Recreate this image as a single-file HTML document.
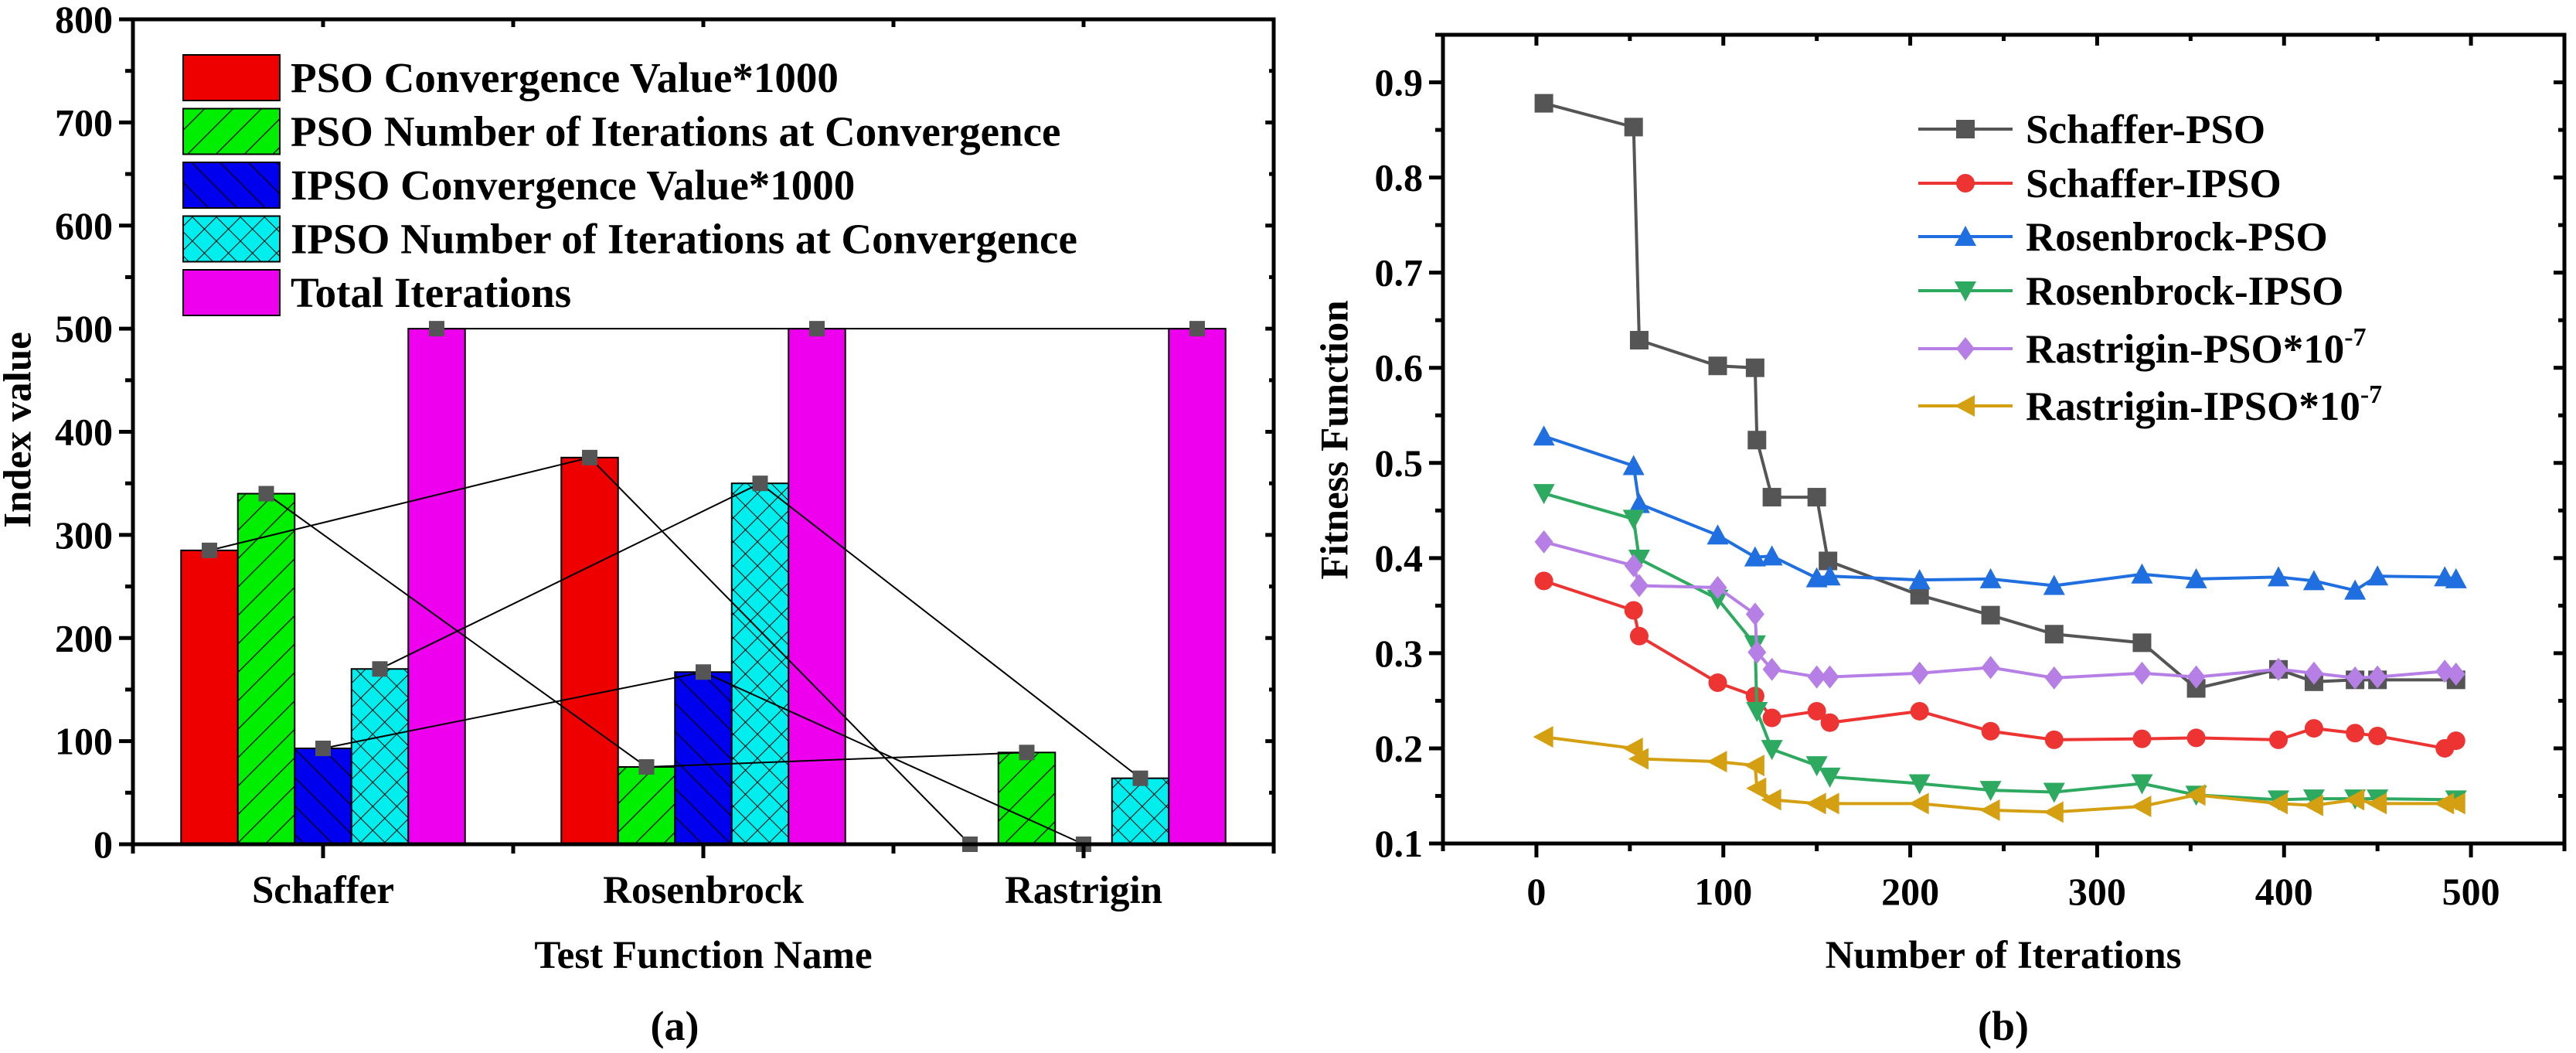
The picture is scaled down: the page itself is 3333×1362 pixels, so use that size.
<!DOCTYPE html>
<html><head><meta charset="utf-8"><style>
html,body{margin:0;padding:0;background:#fff;}
svg{display:block;font-family:"Liberation Serif",serif;font-weight:bold;}
</style></head><body>
<svg id="fig" width="3333" height="1362" viewBox="0 0 3333 1362" xmlns="http://www.w3.org/2000/svg">
<defs>
<pattern id="hatchG" patternUnits="userSpaceOnUse" width="26" height="26" patternTransform="rotate(45)"><rect width="26" height="26" fill="#00ee00"/><line x1="0" y1="0" x2="0" y2="26" stroke="#000" stroke-width="2.5"/></pattern>
<pattern id="hatchB" patternUnits="userSpaceOnUse" width="26" height="26" patternTransform="rotate(-45)"><rect width="26" height="26" fill="#0000ee"/><line x1="0" y1="0" x2="0" y2="26" stroke="#000" stroke-width="2.5"/></pattern>
<pattern id="hatchC" patternUnits="userSpaceOnUse" width="22" height="22" patternTransform="rotate(45)"><rect width="22" height="22" fill="#00eeee"/><line x1="0" y1="0" x2="0" y2="22" stroke="#000" stroke-width="2"/><line x1="0" y1="0" x2="22" y2="0" stroke="#000" stroke-width="2"/></pattern>
</defs>
<g id="left"></g>
<g id="right"></g>
</svg>
<script>
// ---- Chart (a) data ----
const categories = ["Schaffer", "Rosenbrock", "Rastrigin"];
const seriesNamesA = ["PSO Convergence Value*1000", "PSO Number of Iterations at Convergence", "IPSO Convergence Value*1000", "IPSO Number of Iterations at Convergence", "Total Iterations"];
const psoConv = [285, 375, 0];
const psoIter = [340, 75, 89];
const ipsoConv = [93, 167, 0];
const ipsoIter = [170, 350, 64];
const totalIter = [500, 500, 500];
const yTicksA = [0, 100, 200, 300, 400, 500, 600, 700, 800];

// ---- Chart (b) data ----
const iterX = {
  schPSO: [4,52,55,97,117,118,126,150,156,205,243,277,324,353,397,416,438,450,492],
  schIPSO: [4,52,55,97,117,126,150,157,205,243,277,324,353,397,416,438,450,486,492],
  rosPSO: [4,52,55,97,117,126,150,157,205,243,277,324,353,397,416,438,450,486,492],
  rosIPSO: [4,52,55,97,117,118,126,150,157,205,243,277,324,353,397,416,438,450,492],
  rasPSO: [4,52,55,97,117,118,126,150,157,205,243,277,324,353,397,416,438,450,486,492],
  rasIPSO: [4,52,55,97,117,118,126,150,157,205,243,277,324,353,397,416,438,450,486,492]
};
const schafferPSO = [0.878,0.853,0.629,0.602,0.600,0.524,0.464,0.464,0.397,0.361,0.340,0.320,0.311,0.263,0.283,0.270,0.272,0.272,0.272];
const schafferIPSO = [0.376,0.345,0.318,0.269,0.255,0.232,0.239,0.227,0.239,0.218,0.209,0.210,0.211,0.209,0.221,0.216,0.213,0.200,0.208];
const rosenbrockPSO = [0.528,0.497,0.457,0.424,0.401,0.402,0.379,0.381,0.377,0.378,0.371,0.383,0.378,0.380,0.376,0.366,0.381,0.380,0.378];
const rosenbrockIPSO = [0.468,0.441,0.399,0.357,0.309,0.239,0.199,0.182,0.170,0.163,0.156,0.154,0.163,0.151,0.146,0.147,0.147,0.147,0.146];
const rastriginPSO = [0.417,0.392,0.371,0.369,0.341,0.301,0.283,0.275,0.275,0.279,0.285,0.274,0.279,0.275,0.283,0.279,0.274,0.275,0.281,0.278];
const rastriginIPSO = [0.212,0.200,0.189,0.186,0.182,0.158,0.146,0.142,0.142,0.142,0.135,0.133,0.139,0.151,0.142,0.140,0.146,0.142,0.142,0.142];
const xTicksB = [0, 100, 200, 300, 400, 500];
const yTicksB = [0.1, 0.2, 0.3, 0.4, 0.5, 0.6, 0.7, 0.8, 0.9];

const NS = "http://www.w3.org/2000/svg";
function mk(parent, tag, attrs, text) {
  const e = document.createElementNS(NS, tag);
  for (const k in attrs) e.setAttribute(k, attrs[k]);
  if (text !== undefined) e.textContent = text;
  parent.appendChild(e);
  return e;
}

// ================= Chart (a) =================
const L = document.getElementById("left");
const aX0 = 172, aX1 = 1648, aY0 = 1092, aY1 = 25;
const ayScale = v => aY0 - (v / 800) * (aY0 - aY1);
const catW = (aX1 - aX0) / 3;
const axScale = i => aX0 + catW * (i + 0.5);
const barW = 73.5;
const fillsA = ["#ee0000", "url(#hatchG)", "url(#hatchB)", "url(#hatchC)", "#ee00ee"];
const valsA = [psoConv, psoIter, ipsoConv, ipsoIter, totalIter];

valsA.forEach((vals, s) => {
  vals.forEach((v, i) => {
    const cx = axScale(i) + (s - 2) * barW;
    if (v > 0) {
      const r = mk(L, "rect", {x: cx - barW / 2, y: ayScale(v), width: barW, height: aY0 - ayScale(v), fill: fillsA[s], stroke: "#000", "stroke-width": 2});
      
      
    }
  });
});
valsA.forEach((vals, s) => {
  const pts = vals.map((v, i) => (axScale(i) + (s - 2) * barW) + "," + ayScale(v)).join(" ");
  const pl = mk(L, "polyline", {points: pts, fill: "none", stroke: "#000", "stroke-width": 2});
  
  
  vals.forEach((v, i) => {
    const cx = axScale(i) + (s - 2) * barW;
    const m = mk(L, "rect", {x: cx - 10, y: ayScale(v) - 10, width: 20, height: 20, fill: "#555"});
    
    
  });
});
const frA = mk(L, "rect", {x: aX0, y: aY1, width: aX1 - aX0, height: aY0 - aY1, fill: "none", stroke: "#000", "stroke-width": 5});


for (let v = 0; v <= 800; v += 50) {
  const y = ayScale(v), major = v % 100 === 0;
  const len = major ? 18 : 10;
  mk(L, "line", {x1: aX0 - len, y1: y, x2: aX0, y2: y, stroke: "#000", "stroke-width": 5});
  mk(L, "line", {x1: aX1, y1: y, x2: aX1 - len * 0.6, y2: y, stroke: "#000", "stroke-width": 5});
}
yTicksA.forEach(v => {
  const t = mk(L, "text", {x: aX0 - 26, y: ayScale(v) + 17, "text-anchor": "end", "font-size": 50}, String(v));
  
  
});
for (let k = 0; k <= 6; k++) {
  const x = aX0 + catW * k / 2;
  const major = k % 2 === 1;
  mk(L, "line", {x1: x, y1: aY0, x2: x, y2: aY0 + (major ? 18 : 12), stroke: "#000", "stroke-width": 5});
  mk(L, "line", {x1: x, y1: aY1, x2: x, y2: aY1 + 10, stroke: "#000", "stroke-width": 5});
}
categories.forEach((c, i) => {
  const t = mk(L, "text", {x: axScale(i), y: 1168, "text-anchor": "middle", "font-size": 51}, c);
  
  
});
let t;
t = mk(L, "text", {x: 910, y: 1252, "text-anchor": "middle", "font-size": 51}, "Test Function Name");
 
t = mk(L, "text", {x: 28, y: 556, "text-anchor": "middle", "dominant-baseline": "middle", "font-size": 51, transform: "rotate(-90 28 556)"}, "Index value");
 
t = mk(L, "text", {x: 873, y: 1345, "text-anchor": "middle", "font-size": 54}, "(a)");
 
const legA = mk(L, "g", {});


seriesNamesA.forEach((n, s) => {
  const y = 71 + s * 69.5;
  const r = mk(legA, "rect", {x: 237, y: y, width: 125, height: 59, fill: fillsA[s], stroke: "#000", "stroke-width": 2});
  
  
  const tx = mk(legA, "text", {x: 376, y: y + 48, "font-size": 55}, n);
  
  
});

// ================= Chart (b) =================
const R = document.getElementById("right");
const bX0 = 1867, bX1 = 3318, bY0 = 1091, bY1 = 45;
const bxScale = v => bX0 + (v + 50) / 600 * (bX1 - bX0);
const byScale = v => bY0 - (v - 0.1) / 0.85 * (bY0 - bY1);

const frB = mk(R, "rect", {x: bX0, y: bY1, width: bX1 - bX0, height: bY0 - bY1, fill: "none", stroke: "#000", "stroke-width": 5});


for (let v = -50; v <= 550; v += 50) {
  const x = bxScale(v), major = v % 100 === 0;
  mk(R, "line", {x1: x, y1: bY0, x2: x, y2: bY0 + (major ? 18 : 10), stroke: "#000", "stroke-width": 5});
  mk(R, "line", {x1: x, y1: bY1, x2: x, y2: bY1 + (major ? 14 : 8), stroke: "#000", "stroke-width": 5});
}
for (let k = 0; k <= 17; k++) {
  const v = 0.1 + k * 0.05, y = byScale(v), major = k % 2 === 0;
  mk(R, "line", {x1: bX0 - (major ? 18 : 10), y1: y, x2: bX0, y2: y, stroke: "#000", "stroke-width": 5});
  mk(R, "line", {x1: bX1, y1: y, x2: bX1 - (major ? 14 : 8), y2: y, stroke: "#000", "stroke-width": 5});
}
xTicksB.forEach(v => {
  const tt = mk(R, "text", {x: bxScale(v), y: 1170, "text-anchor": "middle", "font-size": 50}, String(v));
  
  
});
yTicksB.forEach(v => {
  const tt = mk(R, "text", {x: bX0 - 26, y: byScale(v) + 17, "text-anchor": "end", "font-size": 50}, v.toFixed(1));
  
  
});
t = mk(R, "text", {x: 2592, y: 1252, "text-anchor": "middle", "font-size": 51}, "Number of Iterations");
 
t = mk(R, "text", {x: 1732, y: 569, "text-anchor": "middle", "dominant-baseline": "middle", "font-size": 51, transform: "rotate(-90 1732 569)"}, "Fitness Function");
 
t = mk(R, "text", {x: 2592, y: 1345, "text-anchor": "middle", "font-size": 54}, "(b)");
 

const seriesB = [
  {name: "Schaffer-PSO", xs: iterX.schPSO, ys: schafferPSO, c: "#555555", m: "square"},
  {name: "Schaffer-IPSO", xs: iterX.schIPSO, ys: schafferIPSO, c: "#ee3333", m: "circle"},
  {name: "Rosenbrock-PSO", xs: iterX.rosPSO, ys: rosenbrockPSO, c: "#1f6fe0", m: "up"},
  {name: "Rosenbrock-IPSO", xs: iterX.rosIPSO, ys: rosenbrockIPSO, c: "#2eaa60", m: "down"},
  {name: "Rastrigin-PSO*10", xs: iterX.rasPSO, ys: rastriginPSO, c: "#b57fe6", m: "diamond"},
  {name: "Rastrigin-IPSO*10", xs: iterX.rasIPSO, ys: rastriginIPSO, c: "#d4a012", m: "left"}
];
function marker(g, type, x, y, c) {
  const s = 12;
  let e;
  if (type === "square") e = mk(g, "rect", {x: x - s, y: y - s, width: 2 * s, height: 2 * s, fill: c});
  else if (type === "circle") e = mk(g, "circle", {cx: x, cy: y, r: s, fill: c});
  else if (type === "up") e = mk(g, "polygon", {points: `${x},${y - s - 2} ${x - s - 2},${y + s} ${x + s + 2},${y + s}`, fill: c});
  else if (type === "down") e = mk(g, "polygon", {points: `${x},${y + s + 2} ${x - s - 2},${y - s} ${x + s + 2},${y - s}`, fill: c});
  else if (type === "diamond") e = mk(g, "polygon", {points: `${x},${y - s - 3} ${x + s},${y} ${x},${y + s + 3} ${x - s},${y}`, fill: c});
  else e = mk(g, "polygon", {points: `${x - s - 2},${y} ${x + s},${y - s - 2} ${x + s},${y + s + 2}`, fill: c});
  
  
  return e;
}
seriesB.forEach(sr => {
  const g = mk(R, "g", {});
  
  
  const pts = sr.ys.map((v, i) => bxScale(sr.xs[i]) + "," + byScale(v)).join(" ");
  mk(g, "polyline", {points: pts, fill: "none", stroke: sr.c, "stroke-width": 4});
  sr.ys.forEach((v, i) => marker(g, sr.m, bxScale(sr.xs[i]), byScale(v), sr.c));
});
const legB = mk(R, "g", {});


const legY = [167, 237, 306, 376, 451, 525];
seriesB.forEach((sr, i) => {
  const y = legY[i];
  mk(legB, "line", {x1: 2482, y1: y, x2: 2604, y2: y, stroke: sr.c, "stroke-width": 4});
  marker(legB, sr.m, 2543, y, sr.c);
  const tx = mk(legB, "text", {x: 2621, y: y + 18, "font-size": 53}, sr.name);
  
  
  if (i >= 4) {
    mk(tx, "tspan", {dy: -22, "font-size": 34}, "-7");
  }
});
</script>
</body></html>
